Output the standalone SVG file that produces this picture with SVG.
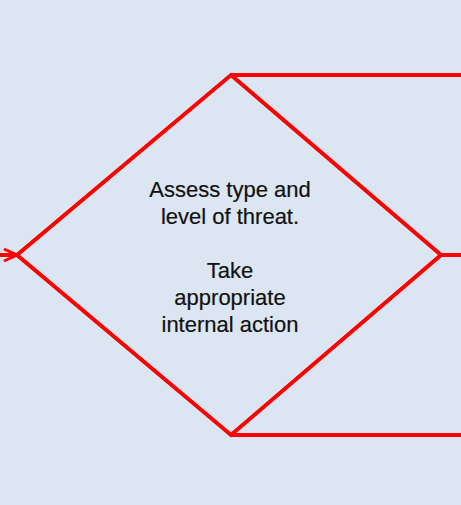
<svg xmlns="http://www.w3.org/2000/svg" width="461" height="505" viewBox="0 0 461 505">
<defs>
<style>
.ln{fill:none;stroke:#ff0000;stroke-width:4;stroke-linejoin:miter}
.t{font-family:"Liberation Sans",Arial,sans-serif;font-size:22px;fill:#111111;stroke:#111111;stroke-width:0.2;text-anchor:middle}
</style>
<marker id="arr" markerWidth="16" markerHeight="16" refX="14" refY="8" orient="auto" markerUnits="userSpaceOnUse">
<path d="M1,2 L14,8 L1,14" fill="none" stroke="#ff0000" stroke-width="3"/>
</marker>
</defs>
<rect width="461" height="505" fill="#dce6f2"/>
<g id="connectors">
<line class="ln" x1="-5" y1="255" x2="17" y2="255" marker-end="url(#arr)"/>
<line class="ln" x1="231" y1="75" x2="465" y2="75"/>
<line class="ln" x1="441" y1="255" x2="465" y2="255"/>
<line class="ln" x1="231" y1="435" x2="465" y2="435"/>
</g>
<g id="decision">
<polygon class="ln" points="231,75 441,255 231,435 17,255"/>
<text class="t" x="230" y="197">Assess type and</text>
<text class="t" x="230" y="224">level of threat.</text>
<text class="t" x="230" y="278">Take</text>
<text class="t" x="230" y="305">appropriate</text>
<text class="t" x="230" y="332">internal action</text>
</g>
</svg>
